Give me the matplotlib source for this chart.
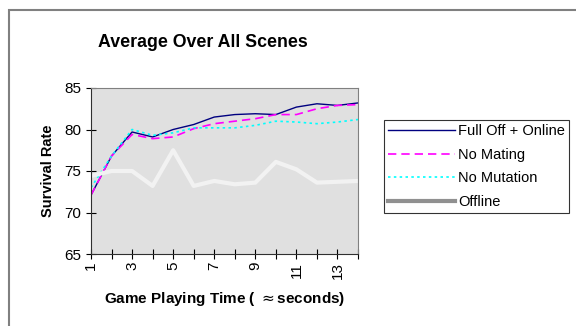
import matplotlib.pyplot as plt
from matplotlib.patches import Rectangle

plt.rcParams['font.family'] = ['Liberation Sans', 'DejaVu Sans']

time = list(range(1, 15))
full = [72.1, 76.8, 79.7, 79.1, 80.0, 80.6, 81.5, 81.8, 81.9, 81.8, 82.7, 83.1, 82.9, 83.2]
no_mating = [72.1, 76.8, 79.4, 78.9, 79.1, 80.1, 80.7, 81.0, 81.3, 81.8, 81.8, 82.5, 82.9, 83.0]
no_mutation = [73.0, 76.8, 80.0, 79.3, 79.6, 80.2, 80.2, 80.2, 80.5, 81.0, 80.9, 80.7, 80.9, 81.2]
offline = [74.4, 75.0, 75.0, 73.2, 77.5, 73.2, 73.8, 73.4, 73.6, 76.1, 75.2, 73.6, 73.7, 73.8]

fig = plt.figure(figsize=(5.76, 3.26), dpi=100)
# outer chart border
fig.patches.append(Rectangle((8.5 / 576, -0.1), 1.2, 1.1 - 10.5 / 326,
                             transform=fig.transFigure, fill=False,
                             edgecolor='#808080', linewidth=1.5))

ax = fig.add_axes([91 / 576, 1 - 254 / 326, (358 - 91) / 576, (254 - 88) / 326])
ax.set_facecolor('#e0e0e0')

ax.plot(time, full, color='#000080', lw=1.0, label='Full Off + Online')
ax.plot(time, no_mating, color='#ff00ff', lw=1.2, ls=(0, (5, 3)), label='No Mating')
ax.plot(time, no_mutation, color='#00ffff', lw=1.2, ls=(0, (1.5, 2)), label='No Mutation')
ax.plot(time, offline, color='#f2f2f2', lw=3.0, label='Offline')

ax.set_xlim(1, 14)
ax.set_ylim(65, 85)
ax.set_yticks([65, 70, 75, 80, 85])
ax.set_xticks(time)
ax.set_xticklabels([str(t) if t % 2 == 1 else '' for t in time], rotation=90)
ax.tick_params(axis='both', direction='inout', length=7, width=0.8, labelsize=11)
ax.tick_params(axis='x', pad=2)

for side in ['top', 'right']:
    ax.spines[side].set_color('#808080')
for side in ['left', 'bottom']:
    ax.spines[side].set_color('#303030')

ax.set_xlabel('Game Playing Time ( $\\approx$seconds)', fontsize=11, fontweight='bold', labelpad=8)
ax.set_ylabel('Survival Rate', fontsize=10.5, fontweight='bold', labelpad=7)
fig.text(0.353, 0.855, 'Average Over All Scenes', fontsize=12.8, fontweight='bold', ha='center')

leg = ax.legend(loc='upper left', bbox_to_anchor=(384 / 576, 1 - 120 / 326),
                bbox_transform=fig.transFigure, frameon=True, fancybox=False,
                edgecolor='black', fontsize=10.5, handlelength=4.6, handletextpad=0.2,
                borderpad=0.28, labelspacing=0.66, borderaxespad=0)
leg.get_frame().set_linewidth(0.8)
leg.get_lines()[3].set_color('#909090')

fig.savefig('out.png', dpi=100)
